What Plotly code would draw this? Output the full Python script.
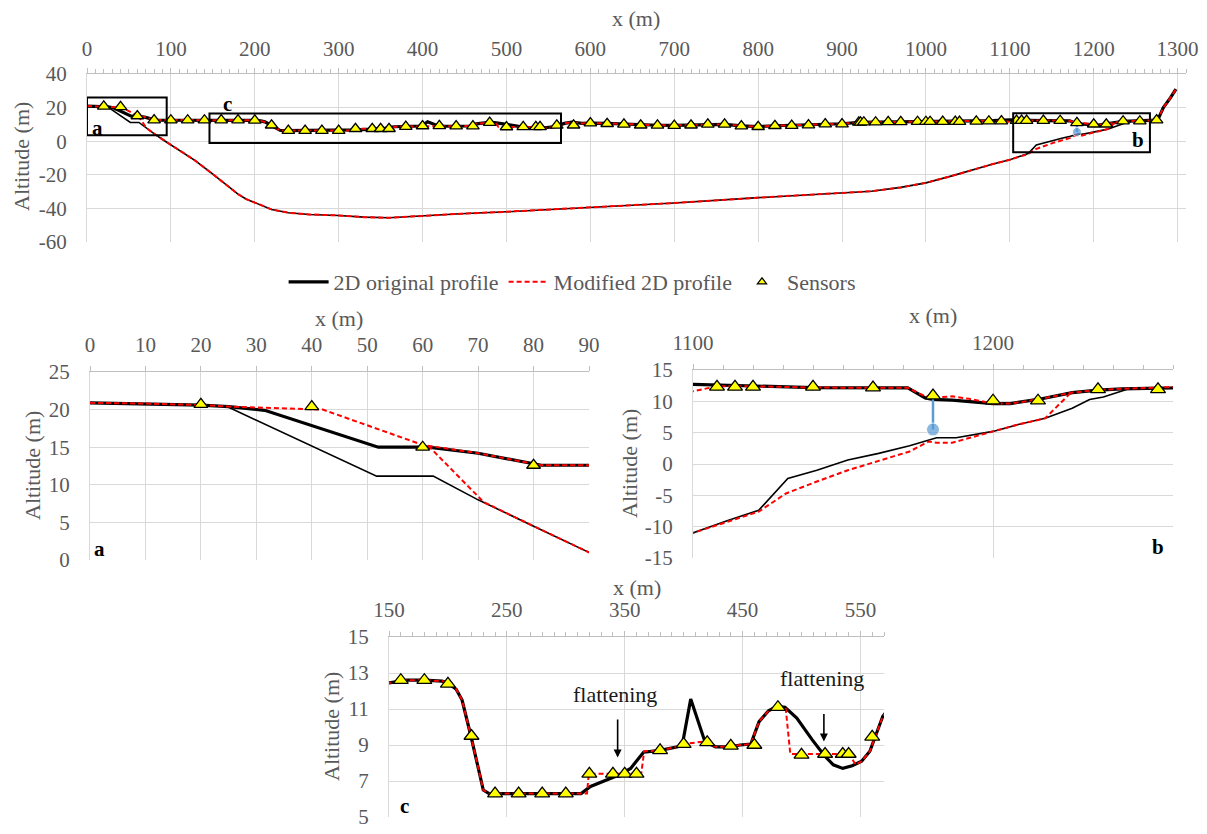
import plotly.graph_objects as go

# ---------------- data ----------------
orig_surface_x = [0, 10, 20, 25, 31.5, 52, 61, 70, 81.4, 90, 100, 120, 140, 150, 165, 180, 195, 200, 207, 212,
                  219.5, 230, 235, 313, 321, 334, 344, 355, 366, 380, 395, 399, 406, 418, 427, 440, 448, 457,
                  464, 472, 479, 486, 496, 509, 519.5, 527, 535, 543, 551, 558, 569, 578, 590, 600, 620, 640,
                  660, 680, 700, 720, 740, 760, 780, 800, 820, 840, 860, 880, 900, 920, 940, 960, 1000, 1050,
                  1080, 1100, 1120.6, 1140, 1171.6, 1177.4, 1180, 1186.4, 1200, 1205.8, 1215, 1226.4, 1235,
                  1243, 1259.6, 1274, 1278, 1283, 1291.6, 1298]
orig_surface_y = [20.9, 20.8, 20.6, 20.4, 19.9, 15.0, 15.0, 14.2, 12.6, 12.6, 12.6, 12.55, 12.5, 12.45, 12.6,
                  12.6, 12.55, 12.45, 12.1, 11.5, 9.5, 6.5, 6.3, 6.3, 6.7, 7.05, 7.3, 7.7, 8.6, 8.7, 8.9, 9.05,
                  11.55, 9.2, 8.9, 8.9, 9.0, 9.05, 10.3, 10.9, 11.15, 11.1, 10.5, 9.3, 8.4, 7.9, 7.7, 7.85, 8.1,
                  8.65, 10.6, 11.3, 10.6, 10.8, 10.6, 10.2, 9.7, 9.5, 9.4, 9.6, 10.0, 10.0, 9.1, 8.7, 9.2, 9.4,
                  9.6, 10.2, 10.4, 11.2, 11.3, 11.5, 11.7, 11.9, 12.2, 12.7, 12.4, 12.2, 12.15, 10.55, 10.3,
                  10.2, 9.65, 9.65, 10.3, 11.4, 11.8, 12.0, 12.15, 12.5, 14.5, 20.0, 25.9, 31.0]

orig_lower_x = [25, 51.7, 61.9, 70, 80.3, 89.6, 100, 115, 129, 150, 165, 180, 190, 200, 220, 240, 265, 300,
                330, 360, 400, 445, 500, 600, 700, 800, 900, 935, 970, 1000, 1030, 1050, 1080, 1100, 1111.6,
                1121.9, 1131.6, 1141.3, 1151.6, 1161.9, 1172.2, 1181.2, 1187.7, 1200, 1208.4, 1217.4, 1226.4,
                1232.2, 1236.8, 1244.5]
orig_lower_y = [20.3, 11.15, 11.15, 8.0, 4.4, 1.15, -2.2, -7.0, -11.6, -19.6, -25.5, -31.5, -34.5, -36.6,
                -40.6, -42.6, -43.6, -44.2, -45.2, -45.6, -44.4, -43.2, -42.0, -39.6, -36.8, -33.6, -30.6,
                -29.8, -27.5, -24.8, -20.8, -17.8, -13.6, -11.0, -9.0, -7.4, -2.3, -1.0, 0.65, 1.7, 2.9, 4.2,
                4.2, 5.2, 6.3, 7.3, 8.9, 10.3, 10.7, 11.9]

mod_surface_x = [0, 10, 20, 25, 42, 60, 70, 81.4, 90, 100, 120, 140, 150, 165, 180, 195, 200, 207, 212, 219.5,
                 230, 235, 313, 318, 319.5, 364, 366.5, 380, 395, 399, 418, 427, 440, 448, 457, 464, 472, 479,
                 486.5, 490.5, 540.5, 546, 551, 558, 569, 578, 590, 600, 620, 640, 660, 680, 700, 720, 740,
                 760, 780, 800, 820, 840, 860, 880, 900, 920, 940, 960, 1000, 1050, 1080, 1100, 1108, 1120.6,
                 1140, 1171.6, 1177.4, 1181, 1186.4, 1192, 1200, 1205.8, 1215, 1226.4, 1235, 1243, 1259.6,
                 1274, 1278, 1283, 1291.6, 1298]
mod_surface_y = [20.9, 20.8, 20.6, 20.4, 20.0, 15.3, 14.2, 12.6, 12.6, 12.6, 12.55, 12.5, 12.45, 12.6, 12.6,
                 12.55, 12.45, 12.1, 11.5, 9.5, 6.5, 6.3, 6.3, 6.3, 7.4, 7.4, 8.65, 8.7, 8.9, 9.05, 9.2, 8.9,
                 8.9, 9.0, 9.05, 10.3, 10.9, 11.15, 11.1, 8.5, 8.5, 7.9, 8.1, 8.65, 10.6, 11.3, 10.6, 10.8,
                 10.6, 10.2, 9.7, 9.5, 9.4, 9.6, 10.0, 10.0, 9.1, 8.7, 9.2, 9.4, 9.6, 10.2, 10.4, 11.2, 11.3,
                 11.5, 11.7, 11.9, 12.2, 11.6, 12.4, 12.4, 12.2, 12.15, 10.8, 10.6, 10.8, 10.4, 9.65, 9.65,
                 10.3, 11.4, 11.8, 12.0, 12.15, 12.5, 14.5, 20.0, 25.9, 31.0]

mod_lower_x = [61, 71, 80.3, 89.6, 100, 115, 129, 150, 165, 180, 190, 200, 220, 240, 265, 300, 330, 360, 400,
               445, 500, 600, 700, 800, 900, 935, 970, 1000, 1030, 1050, 1080, 1100, 1121.9, 1131, 1141.3,
               1151.6, 1161.9, 1172.2, 1178.6, 1181.2, 1186.4, 1192.9, 1200, 1208.4, 1217.4, 1226]
mod_lower_y = [15.2, 7.7, 4.4, 1.15, -2.2, -7.0, -11.6, -19.6, -25.5, -31.5, -34.5, -36.6, -40.6, -42.6,
               -43.6, -44.2, -45.2, -45.6, -44.4, -43.2, -42.0, -39.6, -36.8, -33.6, -30.6, -29.8, -27.5,
               -24.8, -20.8, -17.8, -13.6, -11.0, -7.6, -4.7, -2.8, -1.0, 0.5, 2.0, 3.6, 3.4, 3.4, 4.3, 5.2,
               6.3, 7.3, 11.4]

sensor_x = [20, 40, 60, 80, 100, 120, 140, 160, 180, 200, 220, 240, 260, 280, 300, 320, 340, 350, 360, 380,
            400, 420, 440, 460, 480, 500, 520, 535, 540, 560, 580, 600, 620, 640, 660, 680, 700, 720, 740,
            760, 780, 800, 820, 840, 860, 880, 900, 920, 922, 926, 940, 955, 970, 990, 1000, 1005, 1020,
            1035, 1040, 1060, 1075, 1090, 1108, 1114, 1120, 1140, 1160, 1180, 1200, 1215, 1235, 1255, 1275]
sensor_y = [20.7, 20.4, 15.0, 12.6, 12.5, 12.5, 12.5, 12.6, 12.6, 12.4, 9.5, 6.3, 6.3, 6.3, 6.3, 7.4, 7.4,
            7.4, 7.4, 8.7, 9.05, 9.15, 8.95, 9.0, 11.1, 8.45, 8.5, 8.5, 8.5, 9.45, 9.5, 10.8, 10.4, 10.0,
            9.5, 9.4, 9.3, 9.5, 10.0, 10.0, 9.0, 8.6, 9.2, 9.3, 9.6, 10.2, 10.2, 11.2, 11.2, 11.3, 11.3,
            11.5, 11.5, 11.6, 11.6, 11.6, 11.7, 11.7, 11.7, 11.8, 11.9, 12.0, 12.3, 12.3, 12.3, 12.3, 12.2,
            10.9, 10.1, 10.1, 11.9, 11.9, 12.6]

point_x = [1180, 1180]
point_y = [10.5, 5.5]

# tick labels (hyphen minus as in the reference)
overview_y_ticks = [-60, -40, -20, 0, 20, 40]
zoom_a_y_ticks = [0, 5, 10, 15, 20, 25]
zoom_b_y_ticks = [-15, -10, -5, 0, 5, 10, 15]
zoom_c_y_ticks = [5, 7, 9, 11, 13, 15]

# zoom windows drawn on the overview chart
box_a = dict(x=[0, 95], y=[3.5, 26])
box_b = dict(x=[1104, 1267], y=[-6.6, 16.7])
box_c = dict(x=[146, 565], y=[-1, 16.5])

# ---------------- style ----------------
FONT = "Liberation Serif, Times New Roman, DejaVu Serif, serif"
GRAY = "#595959"
GRID = "#D9D9D9"
LINE = "#BFBFBF"
RED = "#FF0000"
YELLOW = "#FFFF00"
BLUE = "#5B9BD5"

panels = [
    # xaxis id, yaxis id, sensor size, dot size
    ("x", "y", 11, 9),
    ("x2", "y2", 12, 13),
    ("x3", "y3", 13, 13),
    ("x4", "y4", 13, 13),
]

fig = go.Figure()
for i, (xa, ya, ssize, dsize) in enumerate(panels):
    first = i == 0
    fig.add_trace(go.Scatter(x=orig_surface_x, y=orig_surface_y, mode="lines", name="2D original profile",
                             line=dict(color="black", width=3.2), xaxis=xa, yaxis=ya,
                             legendgroup="orig", showlegend=first))
    fig.add_trace(go.Scatter(x=orig_lower_x, y=orig_lower_y, mode="lines", name="2D original profile",
                             line=dict(color="black", width=1.6), xaxis=xa, yaxis=ya,
                             legendgroup="orig", showlegend=False))
    fig.add_trace(go.Scatter(x=mod_surface_x, y=mod_surface_y, mode="lines", name="Modified 2D profile",
                             line=dict(color=RED, width=2, dash="5px,3px"), xaxis=xa, yaxis=ya,
                             legendgroup="mod", showlegend=first))
    fig.add_trace(go.Scatter(x=mod_lower_x, y=mod_lower_y, mode="lines", name="Modified 2D profile",
                             line=dict(color=RED, width=2, dash="5px,3px"), xaxis=xa, yaxis=ya,
                             legendgroup="mod", showlegend=False))
    fig.add_trace(go.Scatter(x=point_x, y=point_y, mode="lines+markers", name="point",
                             line=dict(color=BLUE, width=2.5),
                             marker=dict(color=BLUE, size=[0, dsize]), xaxis=xa, yaxis=ya,
                             showlegend=False))
    fig.add_trace(go.Scatter(x=sensor_x, y=sensor_y, mode="markers", name="Sensors",
                             marker=dict(symbol="triangle-up", color=YELLOW, size=ssize,
                                         line=dict(color="black", width=1.3)),
                             xaxis=xa, yaxis=ya, legendgroup="sens", showlegend=False))

# legend entry for the sensors (small symbol, as in the reference legend)
fig.add_trace(go.Scatter(x=[None], y=[None], mode="markers", name="Sensors", legendgroup="sens",
                         marker=dict(symbol="triangle-up", color=YELLOW, size=8,
                                     line=dict(color="black", width=1.2)),
                         xaxis="x", yaxis="y", showlegend=True))

tickfont = dict(family=FONT, size=21, color=GRAY)
titlefont = dict(family=FONT, size=22, color=GRAY)


def xaxis(domain, rng, tick0, dtick, minor, anchor, lab_off):
    d = dict(domain=domain, range=rng, side="top", anchor=anchor, tick0=tick0, dtick=dtick,
             showgrid=True, gridcolor=GRID, gridwidth=1, showline=True, linecolor=LINE, linewidth=1,
             ticks="outside", ticklen=5, tickcolor=LINE, zeroline=False, tickfont=tickfont,
             ticklabelstandoff=lab_off, automargin=False)
    if minor:
        d["minor"] = dict(dtick=minor, tick0=tick0, ticks="outside", ticklen=4, tickcolor=LINE,
                          showgrid=False)
    return d


def yaxis(domain, rng, tickvals, anchor):
    return dict(domain=domain, range=rng, anchor=anchor, tickmode="array", tickvals=tickvals,
                ticktext=[str(v) for v in tickvals], showgrid=True, gridcolor=GRID,
                gridwidth=1, showline=True, linecolor=GRID, linewidth=1, zeroline=False, ticks="",
                tickfont=tickfont, ticklabelstandoff=15, automargin=False)


W, H = 1207, 834
fx = lambda a, b: [a / W, b / W]
fy = lambda top, bot: [1 - bot / H, 1 - top / H]

fig.update_layout(
    template="none",
    width=W, height=H, margin=dict(l=0, r=0, t=0, b=0), autosize=False,
    paper_bgcolor="white", plot_bgcolor="white",
    font=dict(family=FONT, color=GRAY),
    xaxis=xaxis(fx(87, 1186), [0, 1310], 0, 100, 10, "y", 4),
    yaxis=yaxis(fy(74, 242), [-60, 40], overview_y_ticks, "x"),
    xaxis2=xaxis(fx(90, 589), [0, 90], 0, 10, None, "y2", 6),
    yaxis2=yaxis(fy(372, 560), [0, 25], zoom_a_y_ticks, "x2"),
    xaxis3=xaxis(fx(693, 1173), [1100, 1260], 1100, 100, 10, "y3", 6),
    yaxis3=yaxis(fy(370, 558), [-15, 15], zoom_b_y_ticks, "x3"),
    xaxis4=xaxis(fx(389, 884), [150, 570], 150, 100, 10, "y4", 6),
    yaxis4=yaxis(fy(637, 817), [5, 15], zoom_c_y_ticks, "x4"),
    legend=dict(orientation="h", x=0.474, xanchor="center", y=1 - 282 / H, yanchor="middle",
                font=dict(family=FONT, size=22, color=GRAY), bgcolor="rgba(0,0,0,0)",
                itemwidth=40, traceorder="normal"),
    showlegend=True,
)

# axis titles (placed in paper coordinates)
x_titles = [(636, 19), (339, 318), (933, 315), (637, 587)]
y_titles = [(22, 157), (32, 466), (629, 464), (331, 727)]
for px, py in x_titles:
    fig.add_annotation(text="x (m)", xref="paper", yref="paper", x=px / W, y=1 - py / H,
                       xanchor="center", yanchor="middle", showarrow=False, font=titlefont)
for px, py in y_titles:
    fig.add_annotation(text="Altitude (m)", xref="paper", yref="paper", x=px / W, y=1 - py / H,
                       xanchor="center", yanchor="middle", textangle=-90, showarrow=False, font=titlefont)

# zoom boxes on the overview chart
for b in (box_a, box_b, box_c):
    fig.add_shape(type="rect", xref="x", yref="y", x0=b["x"][0], x1=b["x"][1], y0=b["y"][0], y1=b["y"][1],
                  line=dict(color="black", width=2), fillcolor="rgba(0,0,0,0)", layer="above")

lab = dict(family=FONT, size=21, color="black")
labels = [("<b>a</b>", "x", "y", 12, 8), ("<b>c</b>", "x", "y", 167, 22), ("<b>b</b>", "x", "y", 1253, 0.5),
          ("<b>a</b>", "x2", "y2", 1.8, 1.5), ("<b>b</b>", "x3", "y3", 1255, -13.3),
          ("<b>c</b>", "x4", "y4", 163.5, 5.6)]
for t, xr, yr, x, y in labels:
    fig.add_annotation(text=t, xref=xr, yref=yr, x=x, y=y, showarrow=False, font=lab)

# flattening notes
flat = [(342, 11.8, 10.5, 8.3), (517, 12.7, 10.8, 9.2)]
for x, ty, a0, a1 in flat:
    fig.add_annotation(text="flattening", xref="x4", yref="y4", x=x, y=ty, showarrow=False,
                       font=dict(family=FONT, size=22, color="#1a1a1a"))
    fig.add_annotation(text="", xref="x4", yref="y4", axref="x4", ayref="y4", x=x + 2, y=a1, ax=x + 2, ay=a0,
                       showarrow=True, arrowhead=2, arrowsize=1, arrowwidth=1.6, arrowcolor="black")

fig.write_html("out.html", config={"displayModeBar": False},
               post_script="document.body.style.margin='0';document.body.style.overflow='hidden';")
